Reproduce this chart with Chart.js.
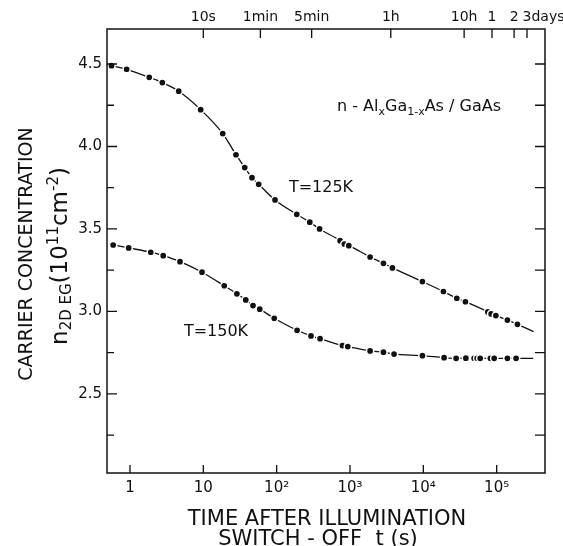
<!DOCTYPE html>
<html>
<head>
<meta charset="utf-8">
<script src="https://cdn.jsdelivr.net/npm/chart.js@4"></script>
<style>
  body { margin: 0; background: #fff; }
  canvas { display: block; }
</style>
</head>
<body>
<canvas id="decayChart" width="563" height="546"></canvas>
<script>
// time after switch-off (s) and carrier concentration (1e11 cm^-2)
const times125 = [0.56, 0.90, 1.83, 2.76, 4.62, 9.2, 18.4, 27.9, 36.7, 46.1, 56.9, 95, 188, 283, 385, 733, 838, 963, 1880, 2860, 3790, 9720, 18800, 28600, 37500, 75800, 84100, 97500, 140000, 192000, 318000];
const conc125 = [4.49, 4.468, 4.419, 4.387, 4.335, 4.223, 4.078, 3.950, 3.872, 3.811, 3.771, 3.676, 3.589, 3.541, 3.500, 3.429, 3.409, 3.399, 3.330, 3.292, 3.264, 3.181, 3.121, 3.080, 3.059, 2.997, 2.985, 2.975, 2.948, 2.922, 2.878];

const times150 = [0.59, 0.96, 1.92, 2.84, 4.81, 9.6, 19.3, 28.7, 37.9, 47.6, 58.8, 92.7, 190, 294, 391, 788, 933, 1880, 2860, 3990, 9720, 19200, 28000, 38000, 49300, 54200, 59600, 82200, 92500, 140000, 184000, 315000];
const conc150 = [3.403, 3.385, 3.359, 3.338, 3.302, 3.238, 3.156, 3.107, 3.070, 3.036, 3.014, 2.959, 2.886, 2.852, 2.835, 2.793, 2.787, 2.761, 2.753, 2.742, 2.732, 2.720, 2.716, 2.717, 2.716, 2.716, 2.716, 2.716, 2.716, 2.716, 2.716, 2.716];

// bottom axis (seconds)
const xTickValues = [1, 10, 100, 1000, 10000, 100000];
const xTickLabels = ['1', '10', '10²', '10³', '10⁴', '10⁵'];

// top axis (same scale, marked in clock time)
const topTickValues = [10, 60, 300, 3600, 36000, 86400, 172800, 259200];
const topTickLabels = ['10s', '1min', '5min', '1h', '10h', '1', '2', '3days'];

const yTickValues = [2.5, 3.0, 3.5, 4.0, 4.5];
const yTickLabels = ['2.5', '3.0', '3.5', '4.0', '4.5'];
const yMarkValues = [2.25, 2.5, 2.75, 3.0, 3.25, 3.5, 3.75, 4.0, 4.25, 4.5];

const FONT = 'DejaVu Sans';
const INK = '#111';

function toPoints(xs, ys) {
    return xs.map((t, i) => ({ x: t, y: ys[i] }));
}

// last point of each curve only carries the line on, no dot
function dotSizes(xs) {
    return xs.map((t, i) => i === xs.length - 1 ? 0 : 3.6);
}

// draws a row of text pieces with their own size and vertical shift
function richText(c, parts, x, y) {
    let w = 0;
    parts.forEach(p => {
        c.font = p[1] + 'px "' + FONT + '"';
        w += c.measureText(p[0]).width;
    });
    let cx = x - w / 2;
    parts.forEach(p => {
        c.font = p[1] + 'px "' + FONT + '"';
        c.fillText(p[0], cx, y + p[2]);
        cx += c.measureText(p[0]).width;
    });
}

const decorations = {
    id: 'decorations',
    beforeDraw(chart) {
        const c = chart.ctx;
        c.save();
        c.fillStyle = '#fff';
        c.fillRect(0, 0, chart.width, chart.height);
        c.restore();
    },
    afterDraw(chart) {
        const c = chart.ctx;
        const a = chart.chartArea;
        const xs = chart.scales.x;
        const ys = chart.scales.y;
        c.save();

        // frame
        c.strokeStyle = INK;
        c.lineWidth = 1.5;
        c.strokeRect(a.left, a.top, a.right - a.left, a.bottom - a.top);

        // inward tick marks
        c.lineWidth = 1.3;
        c.beginPath();
        xTickValues.forEach(v => {
            const px = xs.getPixelForValue(v);
            c.moveTo(px, a.bottom);
            c.lineTo(px, a.bottom - 8);
        });
        topTickValues.forEach(v => {
            const px = xs.getPixelForValue(v);
            c.moveTo(px, a.top);
            c.lineTo(px, a.top + 9);
        });
        yMarkValues.forEach(v => {
            const py = ys.getPixelForValue(v);
            const len = yTickValues.includes(v) ? 10 : 7;
            c.moveTo(a.left, py);
            c.lineTo(a.left + len, py);
            c.moveTo(a.right, py);
            c.lineTo(a.right - 10, py);
        });
        c.stroke();

        c.fillStyle = INK;

        // top labels
        c.font = '14px "' + FONT + '"';
        c.textBaseline = 'middle';
        topTickValues.forEach((v, i) => {
            const px = xs.getPixelForValue(v);
            const label = topTickLabels[i];
            if (i === topTickValues.length - 1) {
                c.textAlign = 'left';
                c.fillText(label, px - c.measureText('3').width / 2, 17);
            } else {
                c.textAlign = 'center';
                c.fillText(label, px, 17);
            }
        });

        c.textAlign = 'left';
        c.textBaseline = 'alphabetic';

        // curve labels and sample
        richText(c, [['T=125K', 16, 0]], 321, 192);
        richText(c, [['T=150K', 16, 0]], 216, 336);
        richText(c, [
            ['n - Al', 16, 0], ['x', 11, 4], ['Ga', 16, 0], ['1-x', 11, 4], ['As / GaAs', 16, 0]
        ], 419, 111);

        // x title
        richText(c, [['TIME AFTER ILLUMINATION', 21, 0]], 327, 525);
        richText(c, [['SWITCH - OFF  t (s)', 21, 0]], 318, 545);

        // y title
        c.save();
        c.translate(32, 254);
        c.rotate(-Math.PI / 2);
        richText(c, [['CARRIER CONCENTRATION', 19, 0]], 0, 0);
        c.restore();

        c.save();
        c.translate(67, 256);
        c.rotate(-Math.PI / 2);
        richText(c, [
            ['n', 23, 0], ['2D EG', 15, 4], ['(10', 23, 0], ['11', 15, -9], ['cm', 23, 0], ['-2', 15, -9], [')', 23, 0]
        ], 0, 0);
        c.restore();

        c.restore();
    }
};

const ctx = document.getElementById('decayChart').getContext('2d');

new Chart(ctx, {
    type: 'line',
    data: {
        datasets: [{
            label: 'T=125K',
            data: toPoints(times125, conc125),
            pointRadius: dotSizes(times125)
        }, {
            label: 'T=150K',
            data: toPoints(times150, conc150),
            pointRadius: dotSizes(times150)
        }]
    },
    options: {
        responsive: false,
        animation: false,
        layout: {
            padding: { left: 0, right: 18, top: 29, bottom: 0 }
        },
        elements: {
            line: {
                borderColor: INK,
                borderWidth: 1.3,
                cubicInterpolationMode: 'monotone',
                fill: false
            },
            point: {
                backgroundColor: INK,
                borderColor: '#fff',
                borderWidth: 1.5,
                hoverRadius: 3.6
            }
        },
        plugins: {
            legend: { display: false },
            tooltip: { enabled: false }
        },
        scales: {
            x: {
                type: 'logarithmic',
                position: 'bottom',
                min: 0.486,
                max: 456000,
                grid: { display: false, drawTicks: false },
                border: { display: false },
                ticks: {
                    autoSkip: false,
                    maxRotation: 0,
                    padding: 6,
                    color: INK,
                    font: { family: FONT, size: 15 },
                    callback: (value, index) => xTickLabels[index]
                },
                afterBuildTicks: scale => {
                    scale.ticks = xTickValues.map(v => ({ value: v }));
                },
                afterFit: scale => {
                    scale.height = 73;
                    scale.paddingLeft = 0;
                    scale.paddingRight = 0;
                }
            },
            y: {
                type: 'linear',
                min: 2.021,
                max: 4.712,
                grid: { display: false, drawTicks: false },
                border: { display: false },
                ticks: {
                    padding: 5,
                    color: INK,
                    font: { family: FONT, size: 15 },
                    callback: (value, index) => yTickLabels[index]
                },
                afterBuildTicks: scale => {
                    scale.ticks = yTickValues.map(v => ({ value: v }));
                },
                afterFit: scale => {
                    scale.width = 107;
                    scale.paddingTop = 0;
                    scale.paddingBottom = 0;
                }
            }
        }
    },
    plugins: [decorations]
});
</script>
</body>
</html>
